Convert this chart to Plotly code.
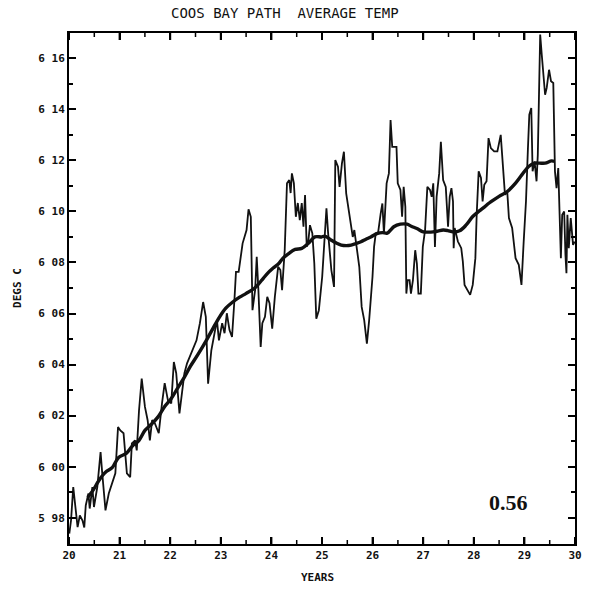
import plotly.graph_objects as go

# Noisy series (years, degrees C)
years_raw = [20.006, 20.04, 20.084, 20.117, 20.17, 20.214, 20.267, 20.302, 20.331, 20.384,
             20.409, 20.462, 20.493, 20.559, 20.624, 20.657, 20.721, 20.786, 20.852, 20.916,
             20.969, 21.014, 21.078, 21.144, 21.209, 21.242, 21.306, 21.339, 21.384, 21.437,
             21.501, 21.554, 21.598, 21.643, 21.696, 21.774, 21.838, 21.891, 21.955, 22.021,
             22.072, 22.119, 22.183, 22.228, 22.281, 22.333, 22.411, 22.489, 22.52, 22.587,
             22.651, 22.704, 22.749, 22.813, 22.879, 22.924, 22.963, 23.027, 23.074, 23.119,
             23.172, 23.222, 23.269, 23.30, 23.353, 23.431, 23.509, 23.548, 23.593, 23.626,
             23.678, 23.71, 23.743, 23.788, 23.821, 23.873, 23.918, 23.963, 24.016, 24.068,
             24.133, 24.177, 24.211, 24.263, 24.308, 24.353, 24.38, 24.405, 24.444, 24.483,
             24.522, 24.561, 24.6, 24.634, 24.665, 24.698, 24.731, 24.762, 24.809, 24.848,
             24.887, 24.938, 25.004, 25.023, 25.088, 25.121, 25.185, 25.238, 25.263, 25.316,
             25.347, 25.394, 25.433, 25.478, 25.522, 25.575, 25.608, 25.639, 25.692, 25.737,
             25.784, 25.834, 25.887, 25.932, 25.998, 26.029, 26.062, 26.107, 26.16, 26.193,
             26.224, 26.277, 26.322, 26.355, 26.388, 26.419, 26.472, 26.497, 26.55, 26.583,
             26.614, 26.647, 26.667, 26.692, 26.731, 26.758, 26.797, 26.842, 26.875, 26.906,
             26.953, 26.992, 27.037, 27.082, 27.135, 27.168, 27.199, 27.232, 27.265, 27.316,
             27.349, 27.394, 27.446, 27.491, 27.524, 27.558, 27.589, 27.602, 27.622, 27.655,
             27.686, 27.752, 27.783, 27.817, 27.881, 27.928, 27.979, 28.031, 28.057, 28.096,
             28.142, 28.174, 28.207, 28.252, 28.291, 28.337, 28.402, 28.466, 28.532, 28.563,
             28.616, 28.661, 28.694, 28.758, 28.825, 28.889, 28.942, 28.986, 29.031, 29.07,
             29.097, 29.136, 29.162, 29.201, 29.24, 29.265, 29.312, 29.343, 29.376, 29.409,
             29.441, 29.487, 29.526, 29.571, 29.604, 29.635, 29.669, 29.702, 29.721, 29.747,
             29.786, 29.811, 29.831, 29.85, 29.877, 29.916, 29.961, 29.994]
temp_raw = [5.9738, 5.9789, 5.992, 5.9868, 5.9763, 5.9809, 5.9789, 5.9762, 5.9848, 5.9895,
            5.9836, 5.992, 5.9842, 5.992, 6.0057, 5.9974, 5.9829, 5.9895, 5.9935, 5.9974,
            6.0155, 6.0142, 6.0131, 5.9974, 5.9959, 6.0091, 6.0103, 6.0064, 6.0221, 6.0345,
            6.0234, 6.0182, 6.0103, 6.0182, 6.017, 6.0131, 6.0248, 6.0327, 6.026, 6.0248,
            6.041, 6.0366, 6.0209, 6.0273, 6.0366, 6.0405, 6.0444, 6.0484, 6.0495, 6.0562,
            6.0645, 6.0587, 6.0325, 6.0456, 6.0535, 6.0574, 6.0495, 6.0562, 6.0523, 6.0601,
            6.0535, 6.0508, 6.0652, 6.0763, 6.0763, 6.0875, 6.0927, 6.1008, 6.0979, 6.0613,
            6.0691, 6.0822, 6.0691, 6.0469, 6.0562, 6.0587, 6.0665, 6.064, 6.0541, 6.0665,
            6.0783, 6.077, 6.0691, 6.0848, 6.111, 6.1123, 6.1072, 6.1149, 6.1111, 6.0979,
            6.1033, 6.0966, 6.1033, 6.094, 6.1064, 6.0861, 6.0887, 6.0946, 6.0914, 6.0796,
            6.058, 6.0613, 6.0744, 6.0809, 6.1012, 6.0915, 6.077, 6.0704, 6.1201, 6.1175,
            6.1096, 6.1188, 6.1234, 6.1071, 6.1018, 6.094, 6.09, 6.0927, 6.0835, 6.0783,
            6.0626, 6.0574, 6.0482, 6.0574, 6.0744, 6.0861, 6.0914, 6.0914, 6.0992, 6.1031,
            6.0914, 6.111, 6.1149, 6.1358, 6.1253, 6.1253, 6.1253, 6.111, 6.1084, 6.0979,
            6.1096, 6.1018, 6.0678, 6.0731, 6.0731, 6.0678, 6.0731, 6.0848, 6.0796, 6.0678,
            6.0678, 6.0861, 6.0927, 6.1096, 6.1084, 6.1057, 6.111, 6.0861, 6.1057, 6.1149,
            6.1273, 6.1123, 6.1096, 6.094, 6.1057, 6.1091, 6.1039, 6.0856, 6.0935, 6.0908,
            6.0882, 6.0856, 6.0804, 6.0712, 6.0686, 6.0673, 6.0712, 6.0817, 6.0987, 6.1157,
            6.1131, 6.1039, 6.1104, 6.1118, 6.1287, 6.1248, 6.1235, 6.1235, 6.13, 6.1222,
            6.1065, 6.1078, 6.0974, 6.0935, 6.0817, 6.0791, 6.0712, 6.0882, 6.1039, 6.1248,
            6.1379, 6.1405, 6.1157, 6.1196, 6.1118, 6.1222, 6.1693, 6.1614, 6.1523, 6.1457,
            6.1484, 6.1555, 6.151, 6.1503, 6.1157, 6.1091, 6.117, 6.0882, 6.0817, 6.0987,
            6.1, 6.083, 6.0758, 6.0987, 6.0856, 6.0974, 6.0869, 6.0882]

# Smoothed series
years_smooth = [20.37, 20.474, 20.591, 20.721, 20.858, 20.98, 21.131, 21.248, 21.384, 21.501,
                21.643, 21.76, 21.891, 22.021, 22.144, 22.281, 22.398, 22.54, 22.715, 22.846,
                22.977, 23.099, 23.236, 23.372, 23.495, 23.659, 23.756, 23.84, 23.951, 24.035,
                24.146, 24.23, 24.341, 24.47, 24.6, 24.731, 24.86, 24.99, 25.055, 25.185,
                25.283, 25.38, 25.478, 25.575, 25.673, 25.77, 25.868, 25.965, 26.096, 26.193,
                26.29, 26.355, 26.419, 26.55, 26.68, 26.764, 26.875, 27.004, 27.096, 27.199,
                27.29, 27.394, 27.485, 27.589, 27.719, 27.85, 27.979, 28.109, 28.207, 28.304,
                28.499, 28.661, 28.825, 28.953, 29.084, 29.214, 29.298, 29.409, 29.538, 29.591]
temp_smooth = [5.988, 5.9907, 5.9946, 5.9978, 5.9997, 6.0036, 6.0052, 6.008, 6.0103, 6.0142,
               6.0169, 6.0195, 6.0236, 6.0267, 6.0307, 6.0351, 6.0393, 6.0437, 6.0495, 6.0542,
               6.0587, 6.0621, 6.0645, 6.0664, 6.0678, 6.0698, 6.0718, 6.0738, 6.0763, 6.0778,
               6.0796, 6.0817, 6.0835, 6.0851, 6.0855, 6.0875, 6.09, 6.09, 6.0903, 6.0887,
               6.0876, 6.0868, 6.0866, 6.0868, 6.0874, 6.0881, 6.0891, 6.09, 6.0914, 6.0917,
               6.0915, 6.0927, 6.094, 6.095, 6.095, 6.0942, 6.0933, 6.092, 6.0919, 6.092,
               6.0923, 6.0927, 6.0925, 6.092, 6.0924, 6.0947, 6.098, 6.1002, 6.1017, 6.1033,
               6.1059, 6.1078, 6.1111, 6.1144, 6.1176, 6.1189, 6.1189, 6.1189, 6.1198, 6.1196]

y_tickvals = [5.98, 6.00, 6.02, 6.04, 6.06, 6.08, 6.10, 6.12, 6.14, 6.16]
y_ticktext = ["5 98", "6 00", "6 02", "6 04", "6 06", "6 08", "6 10", "6 12", "6 14", "6 16"]
x_tickvals = [20.0, 21.0, 22.0, 23.0, 24.0, 25.0, 26.0, 27.0, 28.0, 29.0, 30.0]
x_ticktext = ["20", "21", "22", "23", "24", "25", "26", "27", "28", "29", "30"]
x_minorvals = [20.5, 21.5, 22.5, 23.5, 24.5, 25.5, 26.5, 27.5, 28.5, 29.5]

TITLE = "COOS BAY PATH\u00a0 AVERAGE TEMP"
XLABEL = "YEARS"
YLABEL = "DEGS C"
NOTE = "0.56"

INK = "#111111"
MONO = "DejaVu Sans Mono"
PLOT_H = 594 - 33 - 50  # plot area height in px


def bold(labels):
    return ["<b>" + t + "</b>" for t in labels]


fig = go.Figure()
fig.add_trace(go.Scatter(x=years_raw, y=temp_raw, mode="lines",
                         line=dict(color=INK, width=1.8), showlegend=False, hoverinfo="skip"))
fig.add_trace(go.Scatter(x=years_smooth, y=temp_smooth, mode="lines", line_shape="spline",
                         line=dict(color=INK, width=3.4), showlegend=False, hoverinfo="skip"))

fig.update_layout(
    width=593, height=594,
    margin=dict(l=69, r=11, t=33, b=50),
    paper_bgcolor="white", plot_bgcolor="white",
    font=dict(family=MONO, color=INK),
)
fig.update_xaxes(
    range=[20, 30], tickmode="array", tickvals=x_tickvals, ticktext=bold(x_ticktext),
    ticks="inside", ticklen=7, tickwidth=2, tickcolor="black",
    showline=True, linecolor="black", linewidth=2, mirror="allticks",
    showgrid=False, zeroline=False, layer="above traces",
    tickfont=dict(family=MONO, size=11, color=INK),
)
fig.update_yaxes(
    range=[5.9697, 6.1699], tickmode="array", tickvals=y_tickvals, ticktext=bold(y_ticktext),
    ticks="inside", ticklen=7, tickwidth=2, tickcolor="black",
    minor=dict(dtick=0.01, tick0=5.98, ticks="inside", ticklen=4, tickwidth=1.5, tickcolor="black"),
    showline=True, linecolor="black", linewidth=2, mirror="allticks",
    showgrid=False, zeroline=False, layer="above traces",
    tickfont=dict(family=MONO, size=11, color=INK),
)

# Inward x-axis tick marks on bottom and top edges, placed on the x scale
for vals, length, width in ((x_tickvals, 7, 2), (x_minorvals, 4, 1.5)):
    frac = length / PLOT_H
    for v in vals:
        fig.add_shape(type="line", xref="x", yref="y domain", x0=v, x1=v, y0=0, y1=frac,
                      line=dict(color="black", width=width), layer="above")
        fig.add_shape(type="line", xref="x", yref="y domain", x0=v, x1=v, y0=1, y1=1 - frac,
                      line=dict(color="black", width=width), layer="above")

fig.add_annotation(text=TITLE, xref="paper", yref="paper", x=0.427, y=1.039,
                   xanchor="center", yanchor="middle", showarrow=False,
                   font=dict(family=MONO, size=14, color=INK))
fig.add_annotation(text="<b>" + XLABEL + "</b>", xref="paper", yref="paper", x=0.491, y=-0.0665,
                   xanchor="center", yanchor="middle", showarrow=False,
                   font=dict(family=MONO, size=11, color=INK))
fig.add_annotation(text="<b>" + YLABEL + "</b>", xref="paper", yref="paper", x=-0.101, y=0.501,
                   xanchor="center", yanchor="middle", showarrow=False, textangle=-90,
                   font=dict(family=MONO, size=11, color=INK))
fig.add_annotation(text="<b>" + NOTE + "</b>", xref="paper", yref="paper", x=0.869, y=0.082,
                   xanchor="center", yanchor="middle", showarrow=False,
                   font=dict(family="Liberation Serif", size=22, color=INK))

fig.write_html("out.html")
